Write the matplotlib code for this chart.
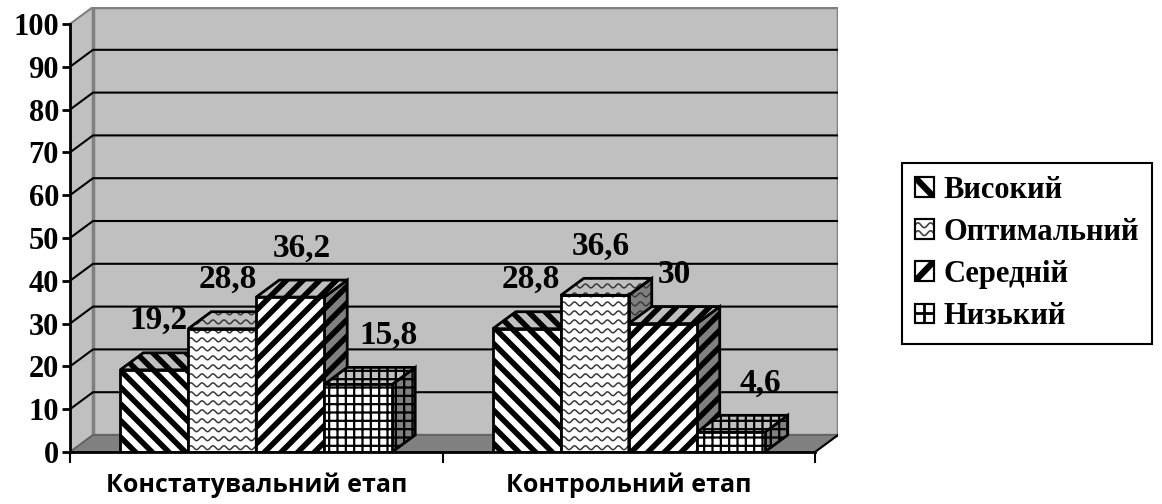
import numpy as np
import matplotlib
matplotlib.use("Agg")
import matplotlib.pyplot as plt
from matplotlib.patches import Polygon, Rectangle
from matplotlib.lines import Line2D
from matplotlib.legend_handler import HandlerBase

# data
categories = ["Констатувальний етап", "Контрольний етап"]
series_names = ["Високий", "Оптимальний", "Середній", "Низький"]
vysokyi = [19.2, 28.8]
optymalnyi = [28.8, 36.6]
serednii = [36.2, 30]
nyzkyi = [15.8, 4.6]
label_text = [["19,2", "28,8"], ["28,8", "36,6"], ["36,2", "30"], ["15,8", "4,6"]]
yticks = list(range(0, 101, 10))

values = [vysokyi, optymalnyi, serednii, nyzkyi]
hatches = ["\\\\", "wave", "//", "++"]
hatch_lw = [4.0, 1.0, 4.0, 1.6]
label_shift = [0.011, 0.016, 0.032, 0.08]  # label x nudge per series

# pseudo-3d geometry (data units)
DX, DY = 0.0617, 3.97
PAD, BAR_W = 0.135, 0.1825
WALL = "#c0c0c0"
DARK = "#808080"

serif = "Liberation Serif"
sans = ["Open Sans", "DejaVu Sans"]

fig = plt.figure(figsize=(11.62, 5.04), dpi=100)
ax = fig.add_axes([70 / 1162, 52 / 504, 768 / 1162, 445 / 504])
ax.set_xlim(0, 2 + DX)
ax.set_ylim(0, 100 + DY)

# walls and floor
ax.add_patch(Polygon([(0, 0), (DX, DY), (DX, 100 + DY), (0, 100)],
                     facecolor=WALL, edgecolor=DARK, lw=1.5, zorder=0))
ax.add_patch(Polygon([(DX, DY), (2 + DX, DY), (2 + DX, 100 + DY), (DX, 100 + DY)],
                     facecolor=WALL, edgecolor=DARK, lw=2.5, zorder=0))
ax.add_patch(Polygon([(0, 0), (2, 0), (2 + DX, DY), (DX, DY)],
                     facecolor=DARK, edgecolor="#606060", lw=1.2, zorder=0.5))
ax.plot([2, 2 + DX], [0, DY], color="black", lw=1.5, zorder=0.6)
for v in yticks[1:-1]:
    ax.plot([0, DX, 2 + DX], [v, v + DY, v + DY], color="black", lw=1.5, zorder=1)


def wave_lines(x0, x1, y1, z, clip):
    xs = np.linspace(x0, x1, 400)
    per = 0.0295
    for yb in np.arange(1.0, y1 + 2, 2.1):
        ys = yb + 0.45 * np.sin(2 * np.pi * (xs - x0) / per)
        ln, = ax.plot(xs, ys, color="#3a3a3a", lw=1.1, zorder=z)
        ln.set_clip_path(clip)


for ci in range(len(categories)):
    for si in range(len(series_names)):
        h = values[si][ci]
        x0 = ci + PAD + si * BAR_W
        x1 = x0 + BAR_W
        z = 3 + ci + si * 0.2
        faces = [
            ([(x1, 0), (x1 + DX, DY), (x1 + DX, h + DY), (x1, h)], DARK),
            ([(x0, h), (x1, h), (x1 + DX, h + DY), (x0 + DX, h + DY)], WALL),
            ([(x0, 0), (x1, 0), (x1, h), (x0, h)], "white"),
        ]
        for pts, fc in faces:
            if hatches[si] == "wave":
                p = Polygon(pts, facecolor=fc, edgecolor="none", zorder=z)
            else:
                p = Polygon(pts, facecolor=fc, edgecolor="black", lw=2,
                            hatch=hatches[si], zorder=z)
                if hasattr(p, "set_hatch_linewidth"):
                    p.set_hatch_linewidth(hatch_lw[si])
            ax.add_patch(p)
        if hatches[si] == "wave":
            outline = Polygon([(x0, 0), (x1, 0), (x1 + DX, DY), (x1 + DX, h + DY),
                               (x0 + DX, h + DY), (x0, h)], facecolor="none",
                              edgecolor="none", transform=ax.transData)
            ax.add_patch(outline)
            wave_lines(x0, x1 + DX, h + DY, z + 0.05, outline)
            for pts, fc in faces:
                ax.add_patch(Polygon(pts, facecolor="none", edgecolor="black",
                                     lw=2, zorder=z + 0.1))
        ax.text(x0 + BAR_W / 2 + label_shift[si], h + DY + 7.5, label_text[si][ci],
                ha="center", va="center", fontsize=24, fontweight="bold",
                family=serif, zorder=10)

# axes
for s in ["top", "right"]:
    ax.spines[s].set_visible(False)
ax.spines["left"].set_bounds(0, 100)
ax.spines["bottom"].set_bounds(0, 2)
ax.spines["left"].set_linewidth(2)
ax.spines["bottom"].set_linewidth(2)
ax.spines["left"].set_zorder(20)
ax.spines["bottom"].set_zorder(20)
ax.set_yticks(yticks)
ax.set_yticklabels([str(v) for v in yticks])
ax.tick_params(axis="y", length=6, width=2, pad=2, labelsize=22)
for lb in ax.get_yticklabels():
    lb.set_family(serif)
    lb.set_fontweight("bold")
ax.set_xticks([0, 1, 2])
ax.set_xticklabels([])
ax.set_xticks([0.5, 1.5], minor=True)
ax.set_xticklabels(categories, minor=True)
ax.tick_params(axis="x", which="major", length=8, width=1.5)
ax.tick_params(axis="x", which="minor", length=0, pad=15, labelsize=18)
for lb in ax.get_xticklabels(minor=True):
    lb.set_family(sans)
    lb.set_fontweight("bold")


# legend: small pattern swatches
class SwatchHandler(HandlerBase):
    def __init__(self, kind):
        super().__init__()
        self.kind = kind

    def create_artists(self, legend, orig, xd, yd, w, h, fs, trans):
        x0, y0 = -xd, -yd
        rect = Rectangle((x0, y0), w, h, facecolor="white", edgecolor="black",
                         lw=1.5, transform=trans)
        arts = [rect]
        if self.kind == "\\\\":
            arts.append(Line2D([x0, x0 + w], [y0 + h, y0], color="black", lw=4.5,
                               transform=trans, solid_capstyle="butt"))
        elif self.kind == "//":
            arts.append(Line2D([x0, x0 + w], [y0, y0 + h], color="black", lw=4.5,
                               transform=trans, solid_capstyle="butt"))
        elif self.kind == "++":
            arts.append(Line2D([x0 + w / 2] * 2, [y0, y0 + h], color="black", lw=2,
                               transform=trans))
            arts.append(Line2D([x0, x0 + w], [y0 + h / 2] * 2, color="black", lw=2,
                               transform=trans))
        else:
            t = np.linspace(0, 1, 40)
            for frac in (0.3, 0.7):
                ys = y0 + frac * h + 0.12 * h * np.sin(t * 2 * np.pi * 1.5)
                arts.append(Line2D(x0 + t * w, ys, color="#404040", lw=1.2,
                                   transform=trans))
        for a in arts[1:]:
            a.set_clip_path(rect)
        arts.append(Rectangle((x0, y0), w, h, facecolor="none", edgecolor="black",
                              lw=1.5, transform=trans))
        return arts


handles = []
handler_map = {}
for si, name in enumerate(series_names):
    hnd = Rectangle((0, 0), 1, 1, facecolor="white", edgecolor="black")
    handler_map[hnd] = SwatchHandler(hatches[si])
    handles.append(hnd)

leg = fig.legend(handles, series_names, handler_map=handler_map,
                 loc="upper left", bbox_to_anchor=(902 / 1162, 1 - 163 / 504),
                 borderaxespad=0,
                 prop={"family": serif, "weight": "bold", "size": 22},
                 handlelength=0.62, handleheight=0.62, handletextpad=0.33,
                 labelspacing=0.43, borderpad=0.42, fancybox=False,
                 edgecolor="black", framealpha=1)
leg.get_frame().set_linewidth(1.5)

fig.savefig("out.png", dpi=100)
